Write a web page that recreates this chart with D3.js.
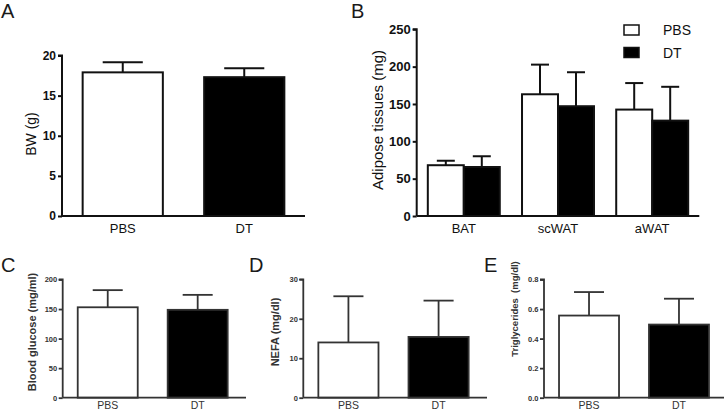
<!DOCTYPE html>
<html><head><meta charset="utf-8">
<script src="https://cdn.jsdelivr.net/npm/d3@7"></script>
<style>
body{margin:0;background:#fff;}
svg{display:block;font-family:"Liberation Sans",Arial,Helvetica,sans-serif;}
</style></head>
<body><svg id="c" width="724" height="414"></svg>
<script>
// Panel A: body weight
const groupsAB = ["PBS","DT"];
const bwMean = [17.9, 17.3];
const bwErr  = [19.15, 18.4];
const bwTicks = [0,5,10,15,20];
// Panel B: adipose tissues
const tissues = ["BAT","scWAT","aWAT"];
const adiPBS = [68, 163, 142.5];
const adiPBSErr = [74, 202.7, 178];
const adiDT = [65.6, 147, 127.7];
const adiDTErr = [80, 192.5, 173];
const adiTicks = [0,50,100,150,200,250];
// Panel C: blood glucose
const gluMean = [153, 148.7];
const gluErr = [182, 174];
const gluTicks = [0,50,100,150,200];
// Panel D: NEFA
const nefaMean = [14.0, 15.4];
const nefaErr = [25.7, 24.6];
const nefaTicks = [0,10,20,30];
// Panel E: triglycerides
const tgMean = [0.556, 0.495];
const tgErr = [0.715, 0.67];
const tgTicks = [0.0,0.2,0.4,0.6,0.8];
const fills = {PBS:"#ffffff", DT:"#000000"};

const svg = d3.select("#c");

function panelLetter(t,x,y){
  svg.append("text").attr("x",x).attr("y",y).text(t)
    .attr("font-size",20).attr("fill","#1a1a1a").attr("font-weight",300);
}

function simplePanel(o){
  const g = svg.append("g");
  const x = d3.scaleBand().domain(groupsAB).range([o.x0,o.x1]).paddingInner(o.pi).paddingOuter(o.po);
  const y = d3.scaleLinear().domain([o.ticks[0], o.ticks[o.ticks.length-1]]).range([o.yb,o.yt]);
  const col = o.col, sw = o.sw;
  groupsAB.forEach((k,i)=>{
    const bx = x(k), bw = x.bandwidth(), cx = bx+bw/2;
    g.append("line").attr("x1",cx).attr("x2",cx).attr("y1",y(o.mean[i])).attr("y2",y(o.err[i])).attr("stroke",col).attr("stroke-width",sw);
    g.append("line").attr("x1",cx-bw/4).attr("x2",cx+bw/4).attr("y1",y(o.err[i])).attr("y2",y(o.err[i])).attr("stroke",col).attr("stroke-width",sw);
    g.append("rect").attr("x",bx).attr("y",y(o.mean[i])).attr("width",bw).attr("height",y(0)-y(o.mean[i]))
      .attr("fill",fills[k]).attr("stroke",col).attr("stroke-width",sw);
  });
  const ya = g.append("g").attr("transform",`translate(${o.x0},0)`)
    .call(d3.axisLeft(y).tickValues(o.ticks).tickSize(o.tl).tickPadding(o.tp).tickFormat(o.fmt||d3.format("d")));
  ya.attr("font-family",null);
  ya.select(".domain").attr("stroke",col).attr("stroke-width",sw).attr("d",`M${-o.tl},${o.yt}H0V${o.yb}`);
  ya.selectAll(".tick line").attr("stroke",col).attr("stroke-width",sw);
  ya.selectAll(".tick text").attr("font-size",o.tfs).attr("font-weight","bold").attr("fill",col);
  g.append("line").attr("x1",o.x0).attr("x2",o.xe).attr("y1",o.yb).attr("y2",o.yb).attr("stroke",col).attr("stroke-width",sw);
  groupsAB.forEach(k=>{
    g.append("text").attr("x",x(k)+x.bandwidth()/2).attr("y",o.xly).attr("text-anchor","middle")
      .attr("font-size",o.xfs).attr("fill",col).text(k);
  });
  g.append("text").attr("transform",`translate(${o.tx},${o.ty}) rotate(-90)`).attr("text-anchor","middle")
    .attr("font-size",o.tifs).attr("font-weight",o.tiw).attr("fill",col).style("white-space","pre").text(o.title);
}

// Panel A
panelLetter("A",1,18);
simplePanel({x0:62,x1:305,xe:305,pi:0.34,po:0.17,yb:216,yt:55.5,ticks:bwTicks,mean:bwMean,err:bwErr,
  col:"#111",sw:2,tl:4,tp:2,tfs:12,xfs:13,xly:233,title:"BW (g)",tx:36,ty:134,tifs:14,tiw:"normal"});

// Panel B
panelLetter("B",351,18);
(function(){
  const col="#111", sw=2;
  const g = svg.append("g");
  const x0 = d3.scaleBand().domain(tissues).range([416.7,699.3]).paddingInner(0.236).paddingOuter(0.118);
  const x1 = d3.scaleBand().domain(groupsAB).range([0,x0.bandwidth()]);
  const y = d3.scaleLinear().domain([0,250]).range([216,29.3]);
  const series = [{k:"PBS",m:adiPBS,e:adiPBSErr},{k:"DT",m:adiDT,e:adiDTErr}];
  tissues.forEach((t,i)=>{
    series.forEach(s=>{
      const bx = x0(t)+x1(s.k), bw = x1.bandwidth(), cx = bx+bw/2;
      g.append("line").attr("x1",cx).attr("x2",cx).attr("y1",y(s.m[i])).attr("y2",y(s.e[i])).attr("stroke",col).attr("stroke-width",sw);
      g.append("line").attr("x1",cx-bw/4).attr("x2",cx+bw/4).attr("y1",y(s.e[i])).attr("y2",y(s.e[i])).attr("stroke",col).attr("stroke-width",sw);
      g.append("rect").attr("x",bx).attr("y",y(s.m[i])).attr("width",bw).attr("height",y(0)-y(s.m[i]))
        .attr("fill",fills[s.k]).attr("stroke",col).attr("stroke-width",sw);
    });
  });
  const ya = g.append("g").attr("transform","translate(416.7,0)")
    .call(d3.axisLeft(y).tickValues(adiTicks).tickSize(4).tickPadding(2).tickFormat(d3.format("d")));
  ya.attr("font-family",null);
  ya.select(".domain").attr("stroke",col).attr("stroke-width",sw).attr("d","M-4,29.3H0V216");
  ya.selectAll(".tick line").attr("stroke",col).attr("stroke-width",sw);
  ya.selectAll(".tick text").attr("font-size",13).attr("font-weight","bold").attr("fill",col);
  g.append("line").attr("x1",416.7).attr("x2",699.3).attr("y1",216).attr("y2",216).attr("stroke",col).attr("stroke-width",sw);
  tissues.forEach(t=>{
    g.append("text").attr("x",x0(t)+x0.bandwidth()/2).attr("y",233).attr("text-anchor","middle")
      .attr("font-size",13).attr("fill",col).text(t);
  });
  g.append("text").attr("transform","translate(383,120) rotate(-90)").attr("text-anchor","middle")
    .attr("font-size",15).attr("fill",col).text("Adipose tissues (mg)");
  const lg = g.append("g");
  groupsAB.forEach((k,i)=>{
    lg.append("rect").attr("x",624).attr("y",25+i*22.5).attr("width",15).attr("height",10)
      .attr("fill",fills[k]).attr("stroke",col).attr("stroke-width",1.5);
    lg.append("text").attr("x",663).attr("y",35+i*22.5).attr("font-size",14).attr("fill",col).text(k);
  });
})();

// Panels C, D, E
const colL = "#333";
panelLetter("C",1,272);
simplePanel({x0:62.7,x1:242.7,xe:246,pi:0.333,po:0.167,yb:397.7,yt:279.5,ticks:gluTicks,mean:gluMean,err:gluErr,
  col:colL,sw:1.8,tl:4,tp:1.5,tfs:7.5,xfs:10.5,xly:408.5,title:"Blood glucose (mg/ml)",tx:35.5,ty:332,tifs:11,tiw:"bold"});
panelLetter("D",249,272);
simplePanel({x0:303.3,x1:483.7,xe:487,pi:0.333,po:0.167,yb:397.7,yt:279.3,ticks:nefaTicks,mean:nefaMean,err:nefaErr,
  col:colL,sw:1.8,tl:4,tp:1.5,tfs:7.5,xfs:10.5,xly:408.5,title:"NEFA (mg/dl)",tx:279,ty:332,tifs:11,tiw:"bold"});
panelLetter("E",484,272);
simplePanel({x0:544,x1:724,xe:724,pi:0.333,po:0.167,yb:397.7,yt:279.5,ticks:tgTicks,mean:tgMean,err:tgErr,
  col:colL,sw:1.8,tl:4,tp:1.5,tfs:7.5,xfs:10.5,xly:408.5,title:"Triglycerides  (mg/dl)",tx:518,ty:309,tifs:9.5,tiw:"bold",fmt:d3.format(".1f")});
</script></body></html>
